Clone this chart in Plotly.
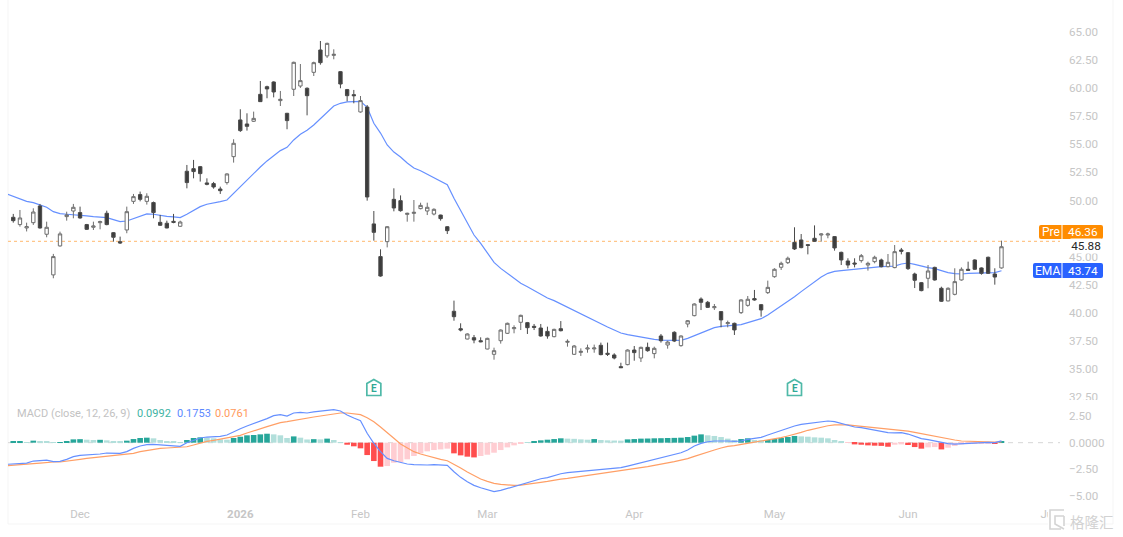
import plotly.graph_objects as go

W, H = 1123, 537

# Daily bars, oldest first
opens = [48.50,47.85,47.55,48.02,49.51,46.99,43.37,45.95,48.56,49.06,48.92,47.85,47.61,48.02,48.86,47.13,46.33,47.37,49.92,50.52,
         49.92,49.81,48.05,47.97,48.14,47.70,52.60,52.83,53.01,51.56,51.50,51.02,51.59,53.90,57.17,56.81,57.05,59.45,60.13,60.55,
         58.89,57.76,59.90,60.19,59.99,61.41,63.40,62.87,62.92,61.47,59.87,59.42,57.88,58.32,47.91,45.00,46.33,50.10,49.98,48.76,
         48.85,49.27,49.06,48.79,48.70,47.66,40.13,38.58,37.66,37.78,37.51,36.77,36.30,37.51,38.17,38.58,39.15,39.12,38.79,38.64,
         38.34,37.87,38.58,37.37,36.30,36.47,36.77,36.78,37.10,36.39,36.24,35.20,35.38,36.68,35.97,36.92,36.36,37.93,37.13,38.26,
         37.07,39.00,39.74,41.22,40.93,40.45,40.10,39.03,39.06,40.01,40.66,41.26,40.72,41.79,43.21,44.05,44.46,46.27,46.48,46.06,
         46.63,46.92,46.92,46.78,45.38,44.61,44.43,44.64,44.25,44.55,44.70,44.10,44.02,45.59,45.35,43.45,42.68,43.07,44.04,42.18,
         41.05,41.64,42.92,43.87,44.70,43.99,44.94,43.45,43.99]
highs = [48.80,49.15,48.02,49.30,49.69,48.11,45.24,47.22,49.00,49.69,49.45,47.91,48.11,48.20,49.09,47.19,46.78,49.45,50.58,50.79,
         50.64,49.90,48.71,48.20,48.80,48.20,53.16,53.61,53.07,51.97,51.65,51.23,52.42,55.45,58.12,57.76,57.91,60.64,60.22,60.61,
         59.75,57.80,62.36,62.15,60.07,62.36,64.20,64.05,63.46,61.53,59.93,59.84,59.30,58.50,49.06,45.65,47.72,51.08,50.45,48.91,
         50.04,49.80,49.80,49.30,48.73,47.72,41.08,39.06,38.17,38.02,37.81,37.78,36.89,38.52,39.12,38.88,39.83,39.18,39.00,39.00,
         38.76,38.58,39.26,37.63,37.13,36.83,37.16,37.16,37.34,37.34,36.39,35.55,36.74,37.04,36.98,37.34,36.98,38.11,37.51,38.35,
         37.99,39.35,40.84,41.37,41.05,40.78,40.15,39.30,39.12,41.20,41.49,42.03,40.78,42.86,43.96,44.55,45.00,47.61,47.01,46.09,
         47.78,47.07,47.13,46.83,45.44,44.85,44.85,45.23,44.55,45.08,44.82,45.23,46.03,45.77,45.41,43.57,42.74,44.25,44.10,42.32,
         42.26,43.96,44.04,44.55,44.76,44.04,45.00,43.96,46.42]
lows = [48.02,47.67,47.24,47.82,47.49,46.72,43.07,45.89,48.20,48.41,48.38,47.37,47.37,47.43,47.79,46.33,46.13,47.08,49.69,49.92,
        49.63,48.41,47.73,47.52,47.97,47.64,51.08,51.97,51.68,51.35,51.05,50.58,51.41,53.37,56.10,56.22,56.99,58.77,59.10,59.18,
        58.41,56.34,59.30,60.02,57.58,61.08,62.09,62.69,62.57,59.99,58.83,58.65,57.82,49.98,46.42,43.21,45.82,49.03,49.00,48.11,
        48.11,49.21,48.70,48.67,48.20,47.01,39.29,38.34,37.63,37.28,37.37,36.74,35.82,37.25,38.11,38.17,38.46,38.11,38.46,37.87,
        37.69,37.81,38.34,36.98,36.24,36.15,36.44,36.44,36.21,36.15,35.85,35.08,35.32,35.73,35.61,36.53,35.94,37.34,36.80,37.39,
        36.98,38.70,39.68,40.24,40.42,40.25,38.70,38.70,38.02,39.89,40.54,41.08,39.65,41.67,43.12,43.81,44.34,45.59,45.74,45.20,
        46.30,46.33,46.63,45.53,44.25,43.96,44.04,44.46,43.75,44.40,44.04,44.04,43.96,45.20,43.81,42.20,41.91,42.18,42.86,40.96,
        41.02,41.55,42.86,43.72,43.81,43.39,43.45,42.50,43.93]
closes = [48.20,48.44,47.67,48.97,47.55,47.61,45.00,47.02,48.71,49.39,48.44,47.43,47.73,48.11,47.85,46.72,46.21,49.00,50.34,50.10,
          50.37,48.92,47.79,47.55,48.05,48.08,51.59,52.57,52.39,51.44,51.20,50.87,52.36,55.09,56.22,56.60,57.31,58.80,59.93,59.66,
          59.01,57.11,62.30,60.67,59.33,62.27,62.27,63.99,63.01,60.37,59.33,59.33,58.89,50.31,47.16,43.27,47.66,49.33,49.09,48.85,
          48.94,49.56,49.39,49.21,48.38,47.31,39.65,38.46,38.11,37.57,37.42,37.72,36.62,38.46,39.06,38.67,39.77,38.67,38.70,37.93,
          37.93,38.52,38.40,37.45,37.04,36.56,36.86,36.86,36.27,36.30,35.97,35.11,36.68,36.45,36.92,36.62,36.83,37.51,37.39,37.48,
          37.93,39.29,40.78,40.93,40.48,40.54,39.36,39.12,38.47,41.14,41.20,41.14,40.25,42.26,43.87,44.40,44.85,45.68,45.80,46.00,
          46.36,47.01,47.01,45.77,44.70,44.25,44.34,45.08,44.40,44.94,44.10,44.49,45.44,45.47,43.93,42.89,41.97,43.72,42.92,41.02,
          42.18,42.77,43.87,43.78,43.87,43.51,43.51,43.18,45.88]

# Moving average on price, starting one bar before the first candle
ema = [50.58,50.34,50.13,49.92,49.81,49.60,49.39,49.00,48.83,48.77,48.74,48.68,48.62,48.56,48.53,48.47,48.29,48.11,48.17,48.38,
       48.62,48.80,48.77,48.65,48.59,48.53,48.47,48.77,49.12,49.45,49.66,49.81,49.90,50.04,50.64,51.23,51.82,52.42,52.98,53.52,
       54.02,54.44,54.73,55.39,55.89,56.25,56.72,57.31,57.91,58.41,58.65,58.77,58.80,58.83,58.30,56.87,56.00,54.94,54.31,53.87,
       53.33,52.89,52.65,52.35,52.03,51.70,51.40,50.19,49.06,47.96,46.92,46.18,45.29,44.49,43.95,43.51,43.06,42.62,42.32,41.97,
       41.64,41.31,41.08,40.78,40.48,40.16,39.86,39.56,39.26,39.00,38.73,38.46,38.20,38.05,37.93,37.81,37.72,37.63,37.57,37.54,
       37.54,37.54,37.72,37.96,38.23,38.46,38.67,38.79,38.82,38.88,38.94,39.12,39.33,39.47,39.80,40.19,40.60,41.02,41.43,41.88,
       42.32,42.77,43.18,43.51,43.69,43.75,43.81,43.87,43.96,44.04,44.07,44.10,44.13,44.16,44.34,44.43,44.31,44.16,44.02,43.93,
       43.72,43.57,43.48,43.45,43.51,43.54,43.54,43.57,43.57,43.74]

# MACD lines, same bars as the moving average
macd = [-2.03,-2.00,-1.94,-1.91,-1.72,-1.69,-1.63,-1.78,-1.75,-1.56,-1.31,-1.19,-1.16,-1.13,-1.06,-0.97,-1.00,-1.00,-0.84,-0.53,
        -0.31,-0.19,-0.16,-0.22,-0.28,-0.31,-0.34,0.00,0.25,0.44,0.53,0.56,0.59,0.72,1.03,1.31,1.56,1.78,2.03,2.25,
        2.53,2.63,2.50,2.78,2.84,2.78,2.88,2.94,3.06,3.09,2.97,2.59,2.31,2.06,0.88,-0.06,-0.84,-1.47,-1.69,-1.88,
        -2.00,-2.06,-2.09,-2.09,-2.06,-2.06,-2.13,-2.72,-3.25,-3.66,-4.00,-4.22,-4.44,-4.59,-4.47,-4.28,-4.13,-3.91,-3.72,-3.50,
        -3.38,-3.28,-3.09,-2.91,-2.81,-2.75,-2.72,-2.63,-2.53,-2.47,-2.41,-2.38,-2.34,-2.19,-2.03,-1.88,-1.72,-1.56,-1.41,-1.25,
        -1.13,-0.94,-0.69,-0.31,-0.06,0.09,0.16,0.19,0.16,0.13,0.16,0.31,0.41,0.50,0.72,0.94,1.19,1.38,1.56,1.72,
        1.81,1.91,2.00,2.03,1.97,1.78,1.63,1.47,1.41,1.28,1.19,1.06,0.94,0.91,0.94,0.81,0.63,0.38,0.28,0.16,
        -0.03,-0.09,-0.13,-0.09,-0.03,0.00,0.03,0.03,0.00,0.1753]
signal = [-2.16,-2.13,-2.06,-2.03,-1.97,-1.91,-1.84,-1.81,-1.81,-1.75,-1.66,-1.56,-1.47,-1.41,-1.34,-1.25,-1.22,-1.19,-1.13,-1.00,
          -0.84,-0.72,-0.59,-0.53,-0.50,-0.47,-0.47,-0.38,-0.22,-0.03,0.13,0.22,0.34,0.44,0.53,0.69,0.91,1.13,1.31,1.50,
          1.69,1.88,1.97,2.09,2.22,2.31,2.41,2.50,2.59,2.69,2.78,2.78,2.72,2.63,2.34,1.97,1.47,0.97,0.41,-0.13,
          -0.50,-0.84,-1.06,-1.25,-1.44,-1.56,-1.69,-2.00,-2.38,-2.75,-3.09,-3.41,-3.63,-3.81,-3.91,-3.97,-4.00,-3.97,-3.91,-3.81,
          -3.72,-3.63,-3.50,-3.41,-3.34,-3.25,-3.19,-3.09,-3.00,-2.91,-2.81,-2.75,-2.66,-2.56,-2.47,-2.38,-2.25,-2.13,-2.03,-1.91,
          -1.78,-1.63,-1.50,-1.28,-1.06,-0.88,-0.69,-0.50,-0.34,-0.28,-0.19,-0.06,0.06,0.16,0.25,0.38,0.47,0.63,0.78,0.97,
          1.16,1.31,1.47,1.59,1.66,1.69,1.66,1.59,1.53,1.47,1.41,1.34,1.28,1.22,1.16,1.09,0.97,0.84,0.72,0.59,
          0.47,0.34,0.25,0.16,0.13,0.09,0.09,0.09,0.06,0.0761]
hist = [0.09,0.11,0.06,0.19,0.13,0.09,0.03,0.06,0.16,0.31,0.33,0.28,0.25,0.27,0.22,0.16,0.09,0.19,0.34,0.44,
        0.47,0.41,0.25,0.13,0.09,0.06,0.25,0.44,0.50,0.47,0.41,0.31,0.28,0.44,0.56,0.69,0.72,0.78,0.84,0.78,
        0.69,0.44,0.59,0.47,0.30,0.33,0.31,0.38,0.25,0.06,-0.19,-0.34,-0.53,-1.16,-1.72,-2.25,-2.19,-1.88,-1.81,-1.56,
        -1.25,-1.00,-0.81,-0.69,-0.63,-0.56,-1.00,-1.19,-1.31,-1.38,-1.25,-1.13,-0.94,-0.69,-0.44,-0.25,-0.06,0.06,0.16,0.22,
        0.28,0.34,0.41,0.38,0.36,0.31,0.28,0.34,0.25,0.22,0.20,0.19,0.31,0.34,0.38,0.39,0.41,0.42,0.44,0.45,
        0.47,0.53,0.66,0.78,0.69,0.63,0.53,0.38,0.25,0.34,0.41,0.25,0.23,0.25,0.34,0.44,0.53,0.63,0.59,0.56,
        0.50,0.47,0.41,0.25,0.09,-0.03,-0.16,-0.19,-0.25,-0.28,-0.30,-0.38,-0.19,-0.16,-0.22,-0.41,-0.56,-0.44,-0.41,-0.63,
        -0.47,-0.31,-0.16,-0.13,-0.09,-0.06,-0.05,-0.08,0.0992]

month_names = ["Dec", "<b>2026</b>", "Feb", "Mar", "Apr", "May", "Jun", "Jul"]
month_bars = [10, 34, 52, 71, 93, 114, 134, 155]
earnings_bars = [54, 117]
price_ticks = [32.5, 35, 37.5, 40, 42.5, 45, 50, 52.5, 55, 57.5, 60, 62.5, 65]
macd_ticks = [-5, -2.5, 0, 2.5]
macd_tick_names = ["−5.00", "−2.50", "0.0000", "2.50"]
premarket = 46.36
last_close = closes[-1]

bars = list(range(len(closes)))
line_bars = [-1] + bars

TEXT_FONT = "Roboto, Inter, Arial, sans-serif"
AXIS_GREY = "#c6c6c6"
TEAL = "#26a69a"
TEAL_SOFT = "#b2dfdb"
RED = "#ff4d4d"
RED_SOFT = "#ffcdd2"
BLUE_LINE = "#6690ff"
ORANGE_LINE = "#ff9f66"
LABEL_BLUE = "#2962ff"
LABEL_ORANGE = "#ff8c00"


def px(x):
    return x / W


def py(y):
    return 1 - y / H


def hist_colour(i):
    """Strong shade while the bar moves away from zero, soft shade otherwise."""
    grows = i == 0 or abs(hist[i]) > abs(hist[i - 1])
    if hist[i] >= 0:
        return TEAL if grows else TEAL_SOFT
    return RED if grows else RED_SOFT


def round_box(x0, y0, x1, y1, r, colour):
    xa, xb, ya, yb = px(x0), px(x1), py(y0), py(y1)
    rx, ry = r / W, r / H
    path = (f"M {xa+rx} {ya} L {xb-rx} {ya} Q {xb} {ya} {xb} {ya-ry} L {xb} {yb+ry} "
            f"Q {xb} {yb} {xb-rx} {yb} L {xa+rx} {yb} Q {xa} {yb} {xa} {yb+ry} "
            f"L {xa} {ya-ry} Q {xa} {ya} {xa+rx} {ya} Z")
    return dict(type="path", xref="paper", yref="paper", path=path, fillcolor=colour,
                line=dict(width=0), layer="above")


fig = go.Figure()

fig.add_trace(go.Scatter(x=line_bars, y=ema, mode="lines", yaxis="y", zorder=-1,
                         line=dict(color=BLUE_LINE, width=1.2), hoverinfo="skip"))
fig.add_trace(go.Candlestick(
    x=bars, open=opens, high=highs, low=lows, close=closes, yaxis="y", whiskerwidth=0,
    increasing=dict(fillcolor="#ffffff", line=dict(color="#6e6e6e", width=1)),
    decreasing=dict(fillcolor="#3c3c3c", line=dict(color="#4a4a4a", width=1)),
    hoverinfo="skip"))

fig.add_trace(go.Bar(x=bars, y=hist, yaxis="y2", width=0.84, zorder=0,
                     marker=dict(color=[hist_colour(i) for i in bars], line=dict(width=0)),
                     hoverinfo="skip"))
fig.add_trace(go.Scatter(x=line_bars, y=signal, mode="lines", yaxis="y2", zorder=1,
                         line=dict(color=ORANGE_LINE, width=1.2), hoverinfo="skip"))
fig.add_trace(go.Scatter(x=line_bars, y=macd, mode="lines", yaxis="y2", zorder=2,
                         line=dict(color=BLUE_LINE, width=1.2), hoverinfo="skip"))

shapes = [
    # pale outer frame of the chart area
    dict(type="line", xref="paper", yref="paper", x0=px(8), x1=px(8), y0=py(0), y1=py(524),
         line=dict(color="#f5f5f5", width=1), layer="below"),
    dict(type="line", xref="paper", yref="paper", x0=px(1113), x1=px(1113), y0=py(0), y1=py(524),
         line=dict(color="#f5f5f5", width=1), layer="below"),
    dict(type="line", xref="paper", yref="paper", x0=px(8), x1=px(1113), y0=py(524), y1=py(524),
         line=dict(color="#f5f5f5", width=1), layer="below"),
    # pre-market reference level
    dict(type="line", xref="paper", yref="y", x0=px(8), x1=px(1060), y0=premarket, y1=premarket,
         line=dict(color="#ffc68a", width=1.4, dash="dot"), layer="below"),
    # zero line of the oscillator
    dict(type="line", xref="paper", yref="y2", x0=px(8), x1=px(1060), y0=0, y1=0,
         line=dict(color="#d6d6d6", width=1, dash="5px,5px"), layer="below"),
    # the price scale stops where the oscillator pane starts
    dict(type="rect", xref="paper", yref="paper", x0=px(1060), x1=px(1112), y0=py(400), y1=py(408),
         fillcolor="#ffffff", line=dict(width=0), layer="above"),
    # price tags
    round_box(1039, 225, 1103, 239, 2, LABEL_ORANGE),
    round_box(1033, 263, 1103, 278, 2, LABEL_BLUE),
    dict(type="line", xref="paper", yref="paper", x0=px(1062), x1=px(1062), y0=py(225), y1=py(239),
         line=dict(color="#ffffff", width=1), layer="above"),
    dict(type="line", xref="paper", yref="paper", x0=px(1062), x1=px(1062), y0=py(263), y1=py(278),
         line=dict(color="#ffffff", width=1), layer="above"),
    # watermark logo
    round_box(1048, 509, 1065, 530, 3, "#ffffff"),
    dict(type="path", xref="paper", yref="paper", layer="above",
         path=(f"M {px(1064)} {py(510)} L {px(1050)} {py(510)} L {px(1050)} {py(529)} L {px(1061)} {py(529)} "
               f"M {px(1064)} {py(516)} L {px(1055)} {py(516)} L {px(1055)} {py(524)} L {px(1064)} {py(529)} "
               f"M {px(1064)} {py(516)} L {px(1064)} {py(526)}"),
         line=dict(color="#d4d4d4", width=1.6)),
]

# earnings flags: a small house outline anchored on the price scale
EARNINGS_LEVEL = 33.3
for bar in earnings_bars:
    shapes.append(dict(type="path", xref="x", yref="y", xsizemode="pixel", ysizemode="pixel",
                       xanchor=bar, yanchor=EARNINGS_LEVEL,
                       path="M -7 4.5 L 0 8.5 L 7 4.5 L 7 -7.5 L -7 -7.5 Z",
                       line=dict(color="#4fb9a8", width=1.7), fillcolor="#ffffff", layer="above"))


def note(x, y, text, colour, size=11.5, anchor="left", bg=None, family=TEXT_FONT, w=None):
    return dict(xref="paper", yref="paper", x=px(x), y=py(y), text=text, showarrow=False,
                xanchor=anchor, yanchor="middle", bgcolor=bg, width=w, borderpad=0,
                font=dict(family=family, size=size, color=colour))


annotations = [
    note(15.5, 413, "MACD (close, 12, 26, 9)", "#c2c2c2", 11),
    note(136, 413, f"{hist[-1]:.4f}", "#3fb3a4", 11),
    note(176, 413, f"{macd[-1]:.4f}", "#5b88ff", 11),
    note(214, 413, f"{signal[-1]:.4f}", "#ff9a5c", 11),
    note(1050.5, 232, "Pre", "#ffffff", 12, "center"),
    note(1083, 232, f"{premarket:.2f}", "#ffffff", 11.8, "center"),
    note(1047.5, 270.5, "EMA", "#ffffff", 12, "center"),
    note(1083, 270.5, f"{ema[-1]:.2f}", "#ffffff", 11.8, "center"),
    note(1070, 246.5, f"{last_close:.2f}", "#2a2a2a", 11.8, bg="#ffffff", w=30),
    note(1092, 521.5, "格隆汇", "#d2d2d2", 14.5, "center", family="Noto Sans CJK SC"),
]
for bar in earnings_bars:
    annotations.append(dict(xref="x", yref="y", x=bar, y=EARNINGS_LEVEL, text="<b>E</b>", showarrow=False,
                            yshift=-1, font=dict(family=TEXT_FONT, size=10, color="#2fa896")))

fig.update_layout(
    width=W, height=H, autosize=False, margin=dict(l=0, r=0, t=0, b=0, pad=0, autoexpand=False),
    paper_bgcolor="#ffffff", plot_bgcolor="rgba(0,0,0,0)",
    showlegend=False, boxgap=0.28, bargap=0.16, shapes=shapes, annotations=annotations,
    font=dict(family=TEXT_FONT, size=11.6, color=AXIS_GREY),
    xaxis=dict(domain=[px(8), px(1113)], range=[-0.79, 164.7], anchor="y2", rangeslider=dict(visible=False),
               tickmode="array", tickvals=month_bars, ticktext=month_names, ticklen=0, showgrid=False,
               zeroline=False, showline=False, tickfont=dict(size=11.5, color=AXIS_GREY, family=TEXT_FONT)),
    yaxis=dict(domain=[py(400), py(0)], range=[32.23, 67.85], anchor="free", position=px(1068), side="right",
               tickmode="array", tickvals=price_ticks, tickformat=".2f", ticklen=0, showgrid=False, zeroline=False,
               showline=False, tickfont=dict(size=11.6, color=AXIS_GREY, family=TEXT_FONT)),
    yaxis2=dict(domain=[py(505), py(400)], range=[-5.84, 4.0], anchor="free", position=px(1068), side="right",
                tickmode="array", tickvals=macd_ticks, ticktext=macd_tick_names, ticklen=0, showgrid=False,
                zeroline=False, showline=False, tickfont=dict(size=11.6, color=AXIS_GREY, family=TEXT_FONT)),
)

fig.write_html("out.html", config=dict(displayModeBar=False))
